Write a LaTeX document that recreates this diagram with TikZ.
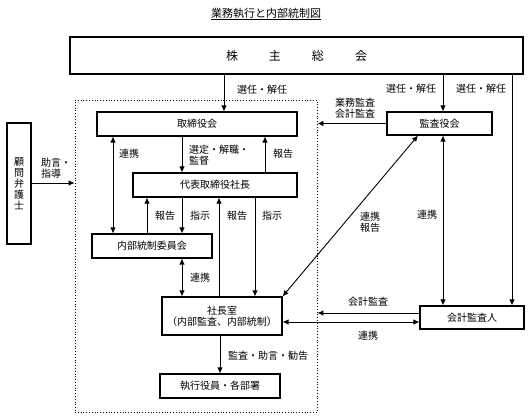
\documentclass[tikz,border=0pt]{standalone}
\usepackage{fontspec}
\setmainfont{Noto Sans CJK JP}
\usetikzlibrary{arrows.meta,calc}
\begin{document}
\begin{tikzpicture}[x=1pt,y=-1pt,
  font=\fontsize{10}{11}\selectfont,
  box/.style={draw, line width=1.1pt, inner sep=0pt},
  arr/.style={-{Latex[length=6pt,width=5.5pt]}, line width=0.9pt},
  dbl/.style={{Latex[length=6pt,width=5.5pt]}-{Latex[length=6pt,width=5.5pt]}, line width=0.9pt},
  lbl/.style={inner sep=0pt}]
\useasboundingbox (0,0) rectangle (531,419);
% title
\node[font=\fontsize{11}{12}\selectfont] (title) at (266,14) {\underline{業務執行と内部統制図}};
% boxes
\node[box, minimum width=453, minimum height=37, font=\fontsize{12}{13}\selectfont] (kabu) at (296.5,55.5) {株\hspace{31pt}主\hspace{31pt}総\hspace{31pt}会};
\node[draw, dotted, line width=0.8pt, minimum width=242, minimum height=312, inner sep=0pt] (inner) at (196,256) {};
\node[box, minimum width=200, minimum height=24] (tori) at (197,124) {取締役会};
\node[box, minimum width=105, minimum height=23] (kansa) at (439.5,123.5) {監査役会};
\node[box, minimum width=164, minimum height=24] (daihyo) at (215,185) {代表取締役社長};
\node[box, minimum width=120, minimum height=24] (naibu) at (152,246) {内部統制委員会};
\node[box, minimum width=120, minimum height=38, align=center] (shachou) at (222,316) {社長室\\（内部監査、内部統制）};
\node[box, minimum width=120, minimum height=24] (shikkou) at (220,386) {執行役員・各部署};
\node[box, minimum width=104, minimum height=23] (kaikei) at (472,317.5) {会計監査人};
\node[box, minimum width=24, minimum height=121, align=center] (komon) at (19,183.5) {顧\\問\\弁\\護\\士};
% helper coordinates
\coordinate (xa) at (224,0);
\coordinate (xb) at (443,0);
\coordinate (xc) at (512,0);
\coordinate (xd) at (113,0);
\coordinate (xe) at (182,0);
\coordinate (xf) at (265,0);
\coordinate (xg) at (147,0);
\coordinate (xh) at (219,0);
\coordinate (xi) at (255,0);
\coordinate (xj) at (220,0);
\coordinate (xk) at (418,0);
\coordinate (ra) at (0,183);
\coordinate (rb) at (0,313);
\coordinate (rc) at (0,322);
% connectors
\draw[arr] (kabu.south -| xa) -- (tori.north -| xa);
\draw[arr] (kabu.south -| xb) -- (kansa.north -| xb);
\draw[arr] (kabu.south -| xc) -- (kaikei.north -| xc);
\draw[arr] (kansa.west) -- (inner.east |- kansa.west);
\draw[arr] (komon.east |- ra) -- (inner.west |- ra);
\draw[dbl] (tori.south -| xd) -- (naibu.north -| xd);
\draw[arr] (tori.south -| xe) -- (daihyo.north -| xe);
\draw[arr] (daihyo.north -| xf) -- (tori.south -| xf);
\draw[arr] (naibu.north -| xg) -- (daihyo.south -| xg);
\draw[arr] (daihyo.south -| xe) -- (naibu.north -| xe);
\draw[arr] (shachou.north -| xh) -- (daihyo.south -| xh);
\draw[arr] (daihyo.south -| xi) -- (shachou.north -| xi);
\draw[dbl] (naibu.south -| xe) -- (shachou.north -| xe);
\draw[arr] (shachou.south -| xj) -- (shikkou.north -| xj);
\draw[dbl] (kansa.south -| xb) -- (kaikei.north -| xb);
\draw[dbl] (kansa.south -| xk) -- (shachou.north east);
\draw[arr] (kaikei.west |- rb) -- (inner.east |- rb);
\draw[dbl] (shachou.east |- rc) -- (kaikei.west |- rc);
% labels
\node[lbl] (l1) at (262,90) {選任・解任};
\node[lbl] (l2) at (411,89) {選任・解任};
\node[lbl] (l3) at (481,89) {選任・解任};
\node[lbl, align=center] (l4) at (355,108) {業務監査\\会計監査};
\node[lbl, align=left, anchor=west] (l5) at (41,168.5) {助言・\\指導};
\node[lbl] (l6) at (129,154) {連携};
\node[lbl, align=left, anchor=west] (l7) at (189,155) {選定・解職・\\監督};
\node[lbl] (l8) at (283,154) {報告};
\node[lbl] (l9) at (165,216) {報告};
\node[lbl] (l10) at (200,216) {指示};
\node[lbl] (l11) at (237,216) {報告};
\node[lbl] (l12) at (272,216) {指示};
\node[lbl] (l13) at (200,278) {連携};
\node[lbl, align=center] (l14) at (370,222.5) {連携\\報告};
\node[lbl] (l15) at (427,215) {連携};
\node[lbl] (l16) at (368,302) {会計監査};
\node[lbl] (l17) at (368,336) {連携};
\node[lbl, anchor=west] (l18) at (228,356) {監査・助言・勧告};
\end{tikzpicture}
\end{document}
